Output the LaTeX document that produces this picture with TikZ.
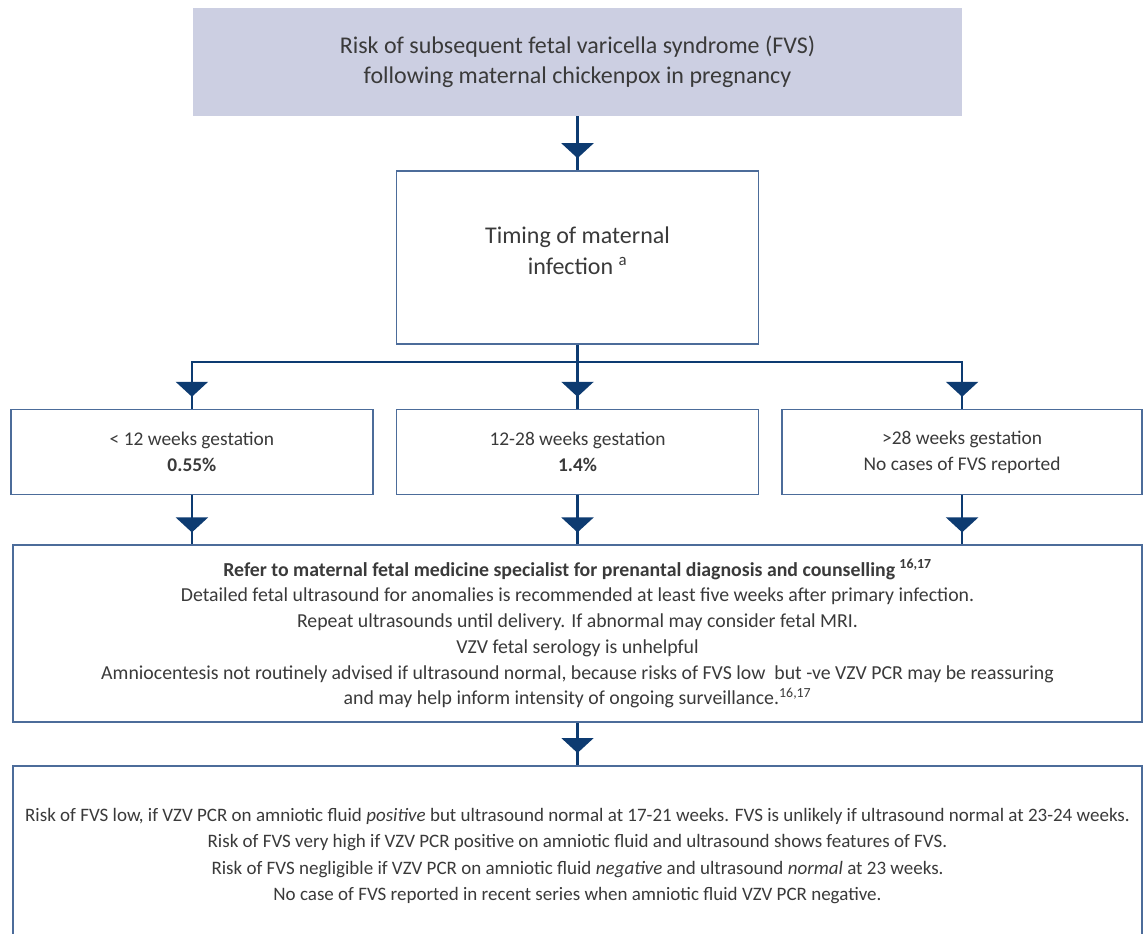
\documentclass[tikz,border=0pt]{standalone}
\usepackage{fontspec}
\setmainfont{Carlito}
\usepackage{tikz}
\usepackage{xcolor}
\usetikzlibrary{arrows.meta,positioning,calc,decorations.markings}
\definecolor{navy}{HTML}{0D3B71}
\definecolor{boxline}{HTML}{4C6C9A}
\definecolor{headfill}{HTML}{CCCFE2}
\definecolor{txt}{HTML}{3A3A3A}

\begin{document}
\begin{tikzpicture}[
    x=1pt, y=1pt,
    head/.style={rectangle, fill=headfill, minimum width=769pt, minimum height=108pt,
      text=txt, align=center, font=\fontsize{24}{30}\selectfont},
    box/.style={rectangle, draw=boxline, line width=1.6pt, fill=white,
      text=txt, align=center, inner sep=0pt},
    small/.style={font=\fontsize{19.4}{25.7}\selectfont},
    link/.style={navy, line width=2.4pt, postaction={decorate},
      decoration={markings,
        mark=at position -12pt with {\arrow{Triangle[width=32pt,length=15pt]}}}},
  ]
    \useasboundingbox (0,0) rectangle (1146,-934);

    % Nodes
    \node[head] (head) at (577.5,-62)
      {Risk of subsequent fetal varicella syndrome (FVS)\\following maternal chickenpox in pregnancy};
    \node[box, below=54pt of head, minimum width=362pt, minimum height=173pt,
      font=\fontsize{24}{31}\selectfont] (timing)
      {Timing of maternal\\infection \textsuperscript{a}\\[-26pt]\strut};

    % Gestation bands
    \node[box, small, below=64pt of timing, minimum width=362pt, minimum height=85pt] (mid)
      {12-28 weeks gestation\\\textbf{1.4\%}};
    \node[box, small, left=22pt of mid, minimum width=362pt, minimum height=85pt] (early)
      {< 12 weeks gestation\\\textbf{0.55\%}};
    \node[box, small, right=22pt of mid, minimum width=360pt, minimum height=85pt] (late)
      {>28 weeks gestation\\No cases of FVS reported};

    % Advice
    \node[box, below=49pt of mid, minimum width=1129pt, minimum height=177pt,
      font=\fontsize{19.8}{25.7}\selectfont] (refer)
      {\textbf{Refer to maternal fetal medicine specialist for prenantal diagnosis and counselling \textsuperscript{16,17}}\\
       Detailed fetal ultrasound for anomalies is recommended at least five weeks after primary infection.\\
       Repeat ultrasounds until delivery. If abnormal may consider fetal MRI.\\
       VZV fetal serology is unhelpful\\
       Amniocentesis not routinely advised if ultrasound normal, because risks of FVS low\ \ but -ve VZV PCR may be reassuring\\
       and may help inform intensity of ongoing surveillance.\textsuperscript{16,17}};
    \node[box, below=42pt of refer, minimum width=1129pt, minimum height=180pt,
      font=\fontsize{19}{26.5}\selectfont] (risk)
      {Risk of FVS low, if VZV PCR on amniotic fluid \textit{positive} but ultrasound normal at 17-21 weeks. FVS is unlikely if ultrasound normal at 23-24 weeks.\\
       Risk of FVS very high if VZV PCR positive on amniotic fluid and ultrasound shows features of FVS.\\
       Risk of FVS negligible if VZV PCR on amniotic fluid \textit{negative} and ultrasound \textit{normal} at 23 weeks.\\
       No case of FVS reported in recent series when amniotic fluid VZV PCR negative.};

    % Arrows
    \coordinate (split) at ($(timing.south)+(0,-17)$);
    \draw[link] (head) -- (timing);
    \draw[link] (timing.south) -- (split) -| (early.north);
    \draw[link] (timing.south) -- (mid.north);
    \draw[link] (timing.south) -- (split) -| (late.north);
    \draw[link] (early.south) -- (early.south |- refer.north);
    \draw[link] (mid.south) -- (mid.south |- refer.north);
    \draw[link] (late.south) -- (late.south |- refer.north);
    \draw[link] (refer.south) -- (risk.north);
  \end{tikzpicture}
\end{document}
